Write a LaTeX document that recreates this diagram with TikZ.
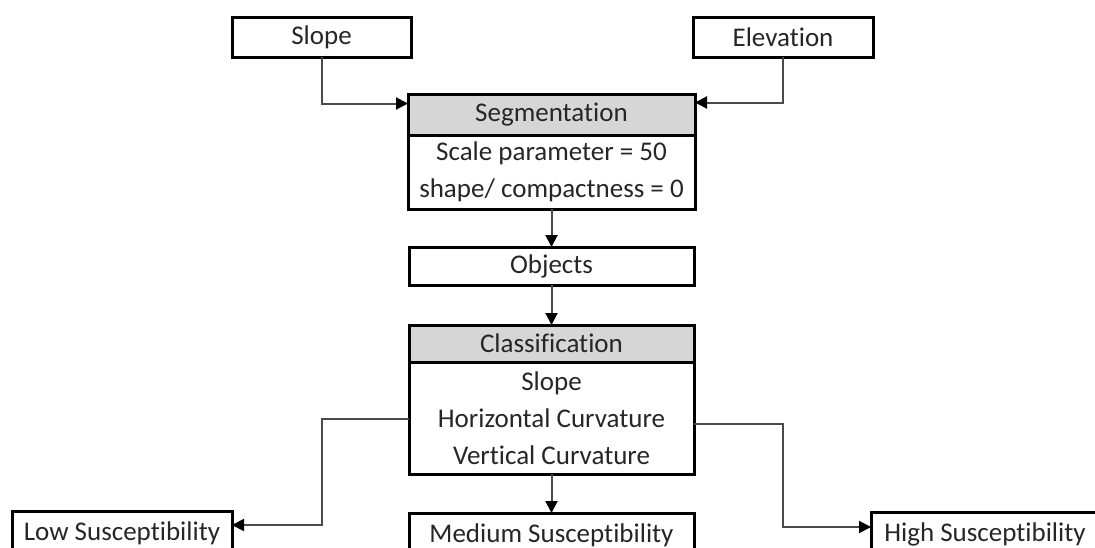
\documentclass[tikz,border=0pt]{standalone}
\usepackage{fontspec}
\setmainfont[RawFeature={-liga;-clig}]{Carlito}
\usetikzlibrary{arrows.meta}
\definecolor{hdrfill}{HTML}{D6D6D6}
\definecolor{txtcol}{HTML}{262626}
\definecolor{conncol}{HTML}{4A4A4A}
\begin{document}
\begin{tikzpicture}[x=1pt,y=-1pt,
  box/.style={draw=black, line width=3pt, rectangle, inner sep=0pt, outer sep=0pt,
    anchor=north west, font=\fontsize{27}{37}\selectfont, text=txtcol, align=center},
  hdr/.style={box, fill=hdrfill},
  conn/.style={draw=conncol, line width=2pt, -{Triangle[length=12pt,width=12pt,color=black]}}]
\useasboundingbox (0,0) rectangle (1095,547);
\clip (0,0) rectangle (1095,547);
% input boxes
\node[box, minimum width=179pt, minimum height=40pt] (slope) at (232,17) {Slope};
\node[box, minimum width=180pt, minimum height=40pt] (elev) at (693,17) {Elevation};
% segmentation
\node[box, minimum width=287pt, minimum height=74pt] (segbody) at (408,135)
  {Scale parameter = 50\\shape/ compactness = 0};
\node[hdr, minimum width=287pt, minimum height=41pt] (seghead) at (408,94) {Segmentation};
% objects
\node[box, minimum width=285pt, minimum height=38pt] (obj) at (409,247) {Objects};
% classification
\node[box, minimum width=285pt, minimum height=112pt] (clsbody) at (409,362)
  {Slope\\Horizontal Curvature\\Vertical Curvature};
\node[hdr, minimum width=285pt, minimum height=37pt] (clshead) at (409,325) {Classification};
% outputs
\node[box, minimum width=220pt, minimum height=44pt] (low) at (12,511) {Low Susceptibility};
\node[box, minimum width=285pt, minimum height=44pt] (med) at (409,513) {Medium Susceptibility};
\node[box, minimum width=228pt, minimum height=44pt] (high) at (871,512) {High Susceptibility};
% connectors
\draw[conn] (slope.south) |- ([yshift=11pt]seghead.west);
\draw[conn] (elev.south) |- ([yshift=12pt]seghead.east);
\draw[conn] (segbody.south) -- (obj.north);
\draw[conn] (obj.south) -- (clshead.north);
\draw[conn] (clsbody.south) -- (med.north);
\coordinate (lowout) at ([yshift=-1pt]clsbody.west);
\coordinate (lowin) at ([yshift=-14pt]low.north east);
\coordinate (highout) at ([yshift=-6pt]clsbody.east);
\coordinate (highin) at ([yshift=-15pt]high.north west);
\draw[conn] (lowout) -- (lowout -| slope.south) |- (lowin);
\draw[conn] (highout) -- (highout -| elev.south) |- (highin);
\end{tikzpicture}
\end{document}
